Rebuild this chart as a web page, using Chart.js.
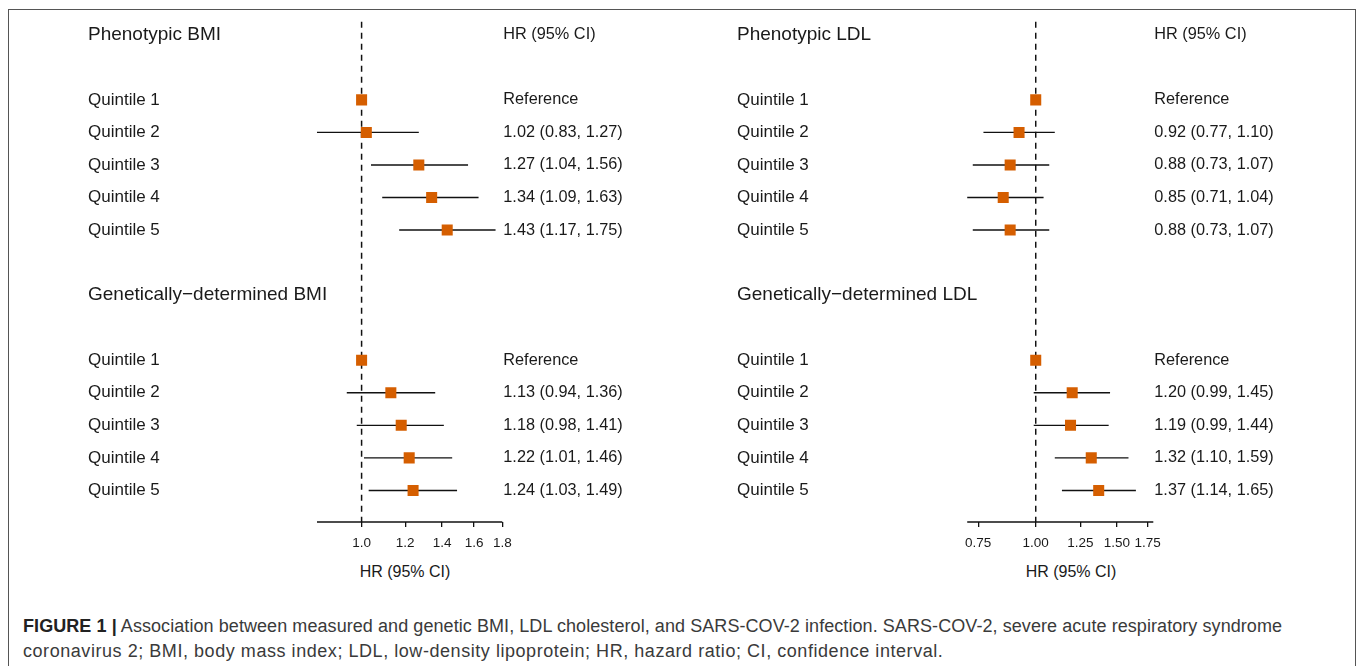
<!DOCTYPE html>
<html lang="en">
<head>
  <meta charset="UTF-8" />
  <title>Figure 1</title>
  <style>
    body {
      margin: 0;
      width: 1358px;
      height: 666px;
      overflow: hidden;
      background: #fff;
      font-family: "Liberation Sans", Arial, sans-serif;
      position: relative;
    }
    #frame {
      position: absolute;
      left: 8px;
      top: 9px;
      width: 1346px;
      height: 720px;
      border: 1px solid #555;
    }
    canvas {
      position: absolute;
      top: 0;
    }
    #bmiChart { left: 8px; }
    #ldlChart { left: 690px; }
    .axisTitle {
      position: absolute;
      top: 563px;
      width: 200px;
      text-align: center;
      font-size: 16px;
      color: #1a1a1a;
    }
    #caption {
      position: absolute;
      left: 23px;
      top: 614px;
      font-size: 18px;
      line-height: 25px;
      color: #3a3a3a;
      white-space: nowrap;
    }
    #caption b { color: #222; }
    #cap1 { letter-spacing: 0.07px; }
    #cap2 { letter-spacing: 0.55px; }
  </style>
  <script src="https://cdn.jsdelivr.net/npm/chart.js@4.4.1/dist/chart.umd.min.js"></script>
</head>
<body>
  <div id="frame"></div>
  <canvas id="bmiChart" width="680" height="562"></canvas>
  <canvas id="ldlChart" width="665" height="562"></canvas>
  <div class="axisTitle" style="left:305px">HR (95% CI)</div>
  <div class="axisTitle" style="left:971px">HR (95% CI)</div>
  <div id="caption">
    <span id="cap1"><b>FIGURE 1 |</b> Association between measured and genetic BMI, LDL cholesterol, and SARS-COV-2 infection. SARS-COV-2, severe acute respiratory syndrome</span><br/>
    <span id="cap2">coronavirus 2; BMI, body mass index; LDL, low-density lipoprotein; HR, hazard ratio; CI, confidence interval.</span>
  </div>

  <script>
    // rows: quintiles within each group
    const quintiles = ['Quintile 1', 'Quintile 2', 'Quintile 3', 'Quintile 4', 'Quintile 5'];
    const bmiGroups = ['Phenotypic BMI', 'Genetically\u2212determined BMI'];
    const ldlGroups = ['Phenotypic LDL', 'Genetically\u2212determined LDL'];

    // hazard ratios, first quintile is the reference
    const bmiPhenoHR = [1.00, 1.02, 1.27, 1.34, 1.43];
    const bmiPhenoLo = [null, 0.83, 1.04, 1.09, 1.17];
    const bmiPhenoHi = [null, 1.27, 1.56, 1.63, 1.75];
    const bmiGenHR = [1.00, 1.13, 1.18, 1.22, 1.24];
    const bmiGenLo = [null, 0.94, 0.98, 1.01, 1.03];
    const bmiGenHi = [null, 1.36, 1.41, 1.46, 1.49];

    const ldlPhenoHR = [1.00, 0.92, 0.88, 0.85, 0.88];
    const ldlPhenoLo = [null, 0.77, 0.73, 0.71, 0.73];
    const ldlPhenoHi = [null, 1.10, 1.07, 1.04, 1.07];
    const ldlGenHR = [1.00, 1.20, 1.19, 1.32, 1.37];
    const ldlGenLo = [null, 0.99, 0.99, 1.10, 1.14];
    const ldlGenHi = [null, 1.45, 1.44, 1.59, 1.65];

    const bmiTicks = [1.0, 1.2, 1.4, 1.6, 1.8];
    const ldlTicks = [0.75, 1.00, 1.25, 1.50, 1.75];
    const bmiAxisRange = [0.83, 1.8];
    const ldlAxisRange = [0.71, 1.8];

    const headerCol = 'HR (95% CI)';
    const orange = '#D55E00';
    const ink = '#1a1a1a';
    const NROWS = 15;
    const YMAX = 14.97;

    function makeForest(canvasId, groups, sets, ticks, axisRange, opts) {
      const leftLabels = new Array(NROWS).fill('');
      const rightLabels = new Array(NROWS).fill('');
      const headerRows = [];
      const points = [];
      const datasets = [];

      groups.forEach((g, gi) => {
        const base = gi * 8;
        leftLabels[base] = g;
        headerRows.push(base);
        if (gi === 0) rightLabels[base] = headerCol;
        const s = sets[gi];
        quintiles.forEach((q, qi) => {
          const row = base + 2 + qi;
          leftLabels[row] = q;
          points.push({ x: s.hr[qi], y: row });
          if (s.lo[qi] === null) {
            rightLabels[row] = 'Reference';
          } else {
            rightLabels[row] = s.hr[qi].toFixed(2) + ' (' + s.lo[qi].toFixed(2) + ', ' + s.hi[qi].toFixed(2) + ')';
            datasets.push({
              type: 'line',
              data: [{ x: s.lo[qi], y: row }, { x: s.hi[qi], y: row }],
              borderColor: '#111',
              borderWidth: 1.4,
              pointRadius: 0
            });
          }
        });
      });

      // squares on top
      datasets.unshift({
        type: 'scatter',
        data: points,
        pointStyle: 'rect',
        pointRadius: 7.8,
        backgroundColor: orange,
        borderWidth: 0
      });
      // dashed line at HR = 1
      datasets.push({
        type: 'line',
        data: [{ x: 1, y: -0.4 }, { x: 1, y: YMAX }],
        borderColor: '#111',
        borderWidth: 1.5,
        borderDash: [6, 5],
        pointRadius: 0
      });
      // axis line, only over the shown range
      datasets.push({
        type: 'line',
        data: [{ x: axisRange[0], y: YMAX }, { x: axisRange[1], y: YMAX }],
        borderColor: '#111',
        borderWidth: 1.3,
        pointRadius: 0,
        clip: false
      });

      return new Chart(document.getElementById(canvasId), {
        type: 'scatter',
        data: { datasets },
        options: {
          responsive: false,
          animation: false,
          layout: { padding: { left: opts.padLeft, top: 18.5, right: 0, bottom: 0 } },
          plugins: { legend: { display: false }, tooltip: { enabled: false } },
          scales: {
            x: {
              type: 'logarithmic',
              bounds: 'data',
              min: opts.xMin,
              max: opts.xMax,
              afterBuildTicks: s => { s.ticks = ticks.map(v => ({ value: v })); },
              afterFit: s => { s.height = 40; },
              border: { display: false },
              grid: { drawOnChartArea: false, drawTicks: true, tickLength: 5, color: '#111', lineWidth: 1.3 },
              ticks: {
                autoSkip: false,
                maxRotation: 0,
                padding: 8,
                color: ink,
                font: { size: 13.5, family: '"Liberation Sans", Arial, sans-serif' },
                callback: v => v.toFixed(opts.decimals)
              }
            },
            y: {
              type: 'linear',
              position: 'left',
              reverse: true,
              min: -0.5,
              max: YMAX,
              afterBuildTicks: s => { s.ticks = leftLabels.map((l, i) => ({ value: i })); },
              border: { display: false },
              grid: { display: false, drawTicks: false },
              ticks: {
                mirror: true,
                crossAlign: 'near',
                padding: 0,
                autoSkip: false,
                color: ink,
                font: ctx => ({ size: headerRows.includes(ctx.index) ? 19 : 17, family: '"Liberation Sans", Arial, sans-serif' }),
                callback: (v, i) => leftLabels[i]
              }
            },
            yRight: {
              type: 'linear',
              position: 'right',
              reverse: true,
              min: -0.5,
              max: YMAX,
              afterBuildTicks: s => { s.ticks = rightLabels.map((l, i) => ({ value: i })); },
              afterFit: s => { s.width = opts.rightWidth; },
              border: { display: false },
              grid: { display: false, drawTicks: false },
              ticks: {
                crossAlign: 'near',
                padding: 1,
                autoSkip: false,
                color: ink,
                font: { size: 16.3, family: '"Liberation Sans", Arial, sans-serif' },
                callback: (v, i) => rightLabels[i]
              }
            }
          }
        }
      });
    }

    makeForest('bmiChart', bmiGroups,
      [{ hr: bmiPhenoHR, lo: bmiPhenoLo, hi: bmiPhenoHi }, { hr: bmiGenHR, lo: bmiGenLo, hi: bmiGenHi }],
      bmiTicks, bmiAxisRange,
      { padLeft: 80, xMin: 0.3189, xMax: 1.8, rightWidth: 185.7, decimals: 1 });

    makeForest('ldlChart', ldlGroups,
      [{ hr: ldlPhenoHR, lo: ldlPhenoLo, hi: ldlPhenoHi }, { hr: ldlGenHR, lo: ldlGenLo, hi: ldlGenHi }],
      ldlTicks, ldlAxisRange,
      { padLeft: 47, xMin: 0.2246, xMax: 1.8, rightWidth: 201.7, decimals: 2 });
  </script>
</body>
</html>
